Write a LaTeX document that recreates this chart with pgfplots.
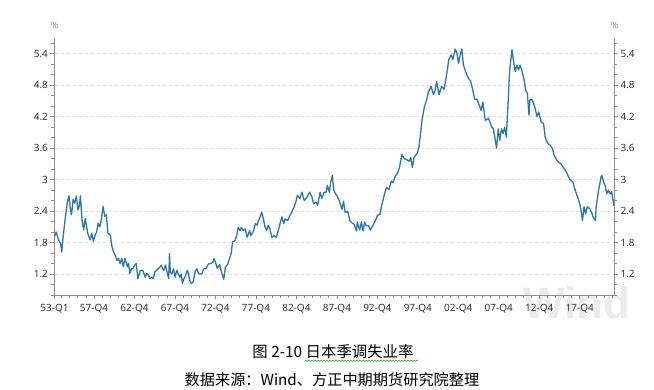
\documentclass[border=0pt]{standalone}
\usepackage{pgfplots}
\pgfplotsset{compat=1.18}
\usepackage{fontspec}
\setmainfont{Noto Sans}
\newfontfamily\cjk{Noto Sans CJK SC}
\usetikzlibrary{decorations.pathmorphing}
\definecolor{lineblue}{HTML}{2A78A6}
\definecolor{axgray}{HTML}{8C8C8C}
\definecolor{gridgray}{HTML}{DEDEDE}
\definecolor{lblgray}{HTML}{333333}
\definecolor{wmark}{HTML}{EBEBEB}
\pgfplotstableread{
x y
1953.0 1.91
1953.2 2.0
1953.5 1.85
1953.75 1.78
1953.9 1.62
1954.0 1.82
1954.3 2.23
1954.6 2.58
1954.8 2.69
1954.95 2.45
1955.1 2.33
1955.3 2.62
1955.5 2.55
1955.7 2.69
1955.9 2.42
1956.1 2.52
1956.2 2.69
1956.4 2.23
1956.6 2.04
1956.8 2.26
1957.1 1.98
1957.4 1.85
1957.6 1.98
1957.8 1.82
1958.0 1.94
1958.2 2.0
1958.4 2.17
1958.6 2.1
1958.8 2.26
1959.0 2.49
1959.2 2.3
1959.4 2.33
1959.6 1.98
1959.9 1.94
1960.1 1.72
1960.3 1.62
1960.5 1.56
1960.7 1.46
1960.9 1.5
1961.1 1.4
1961.3 1.5
1961.5 1.34
1961.7 1.5
1962.0 1.34
1962.15 1.4
1962.3 1.21
1962.5 1.3
1962.7 1.3
1962.9 1.37
1963.1 1.4
1963.3 1.11
1963.6 1.27
1963.9 1.27
1964.2 1.14
1964.4 1.21
1964.6 1.18
1964.8 1.11
1965.0 1.14
1965.2 1.11
1965.4 1.24
1965.6 1.27
1965.8 1.3
1966.0 1.33
1966.2 1.37
1966.35 1.3
1966.5 1.27
1966.7 1.37
1966.9 1.24
1967.1 1.11
1967.2 1.59
1967.3 1.24
1967.5 1.2
1967.7 1.3
1967.9 1.14
1968.1 1.27
1968.3 1.2
1968.5 1.14
1968.65 1.2
1968.8 1.02
1968.95 1.1
1969.1 1.14
1969.25 1.2
1969.4 1.27
1969.55 1.2
1969.7 1.08
1969.9 1.02
1970.1 1.04
1970.4 1.26
1970.6 1.3
1970.8 1.2
1971.0 1.2
1971.2 1.2
1971.4 1.3
1971.7 1.3
1972.0 1.39
1972.3 1.4
1972.55 1.42
1972.7 1.49
1972.95 1.39
1973.1 1.31
1973.4 1.38
1973.55 1.28
1973.7 1.2
1973.9 1.1
1974.1 1.33
1974.4 1.39
1974.6 1.49
1974.8 1.58
1975.0 1.81
1975.3 1.84
1975.5 1.93
1975.7 2.09
1975.9 2.03
1976.1 2.09
1976.3 2.03
1976.55 2.06
1976.8 1.9
1977.1 2.03
1977.25 1.93
1977.6 2.03
1977.8 2.16
1978.0 2.13
1978.2 2.22
1978.4 2.29
1978.6 2.38
1978.8 2.25
1979.0 2.09
1979.2 2.03
1979.4 2.13
1979.6 2.06
1979.85 1.9
1980.1 1.93
1980.4 1.9
1980.7 2.06
1980.9 2.19
1981.1 2.29
1981.3 2.16
1981.5 2.25
1981.8 2.22
1982.0 2.29
1982.3 2.38
1982.6 2.48
1982.85 2.6
1983.0 2.7
1983.3 2.64
1983.55 2.76
1983.85 2.6
1984.2 2.67
1984.5 2.76
1984.8 2.67
1985.0 2.54
1985.3 2.57
1985.5 2.51
1985.8 2.76
1986.0 2.64
1986.3 2.76
1986.55 2.76
1986.7 2.89
1986.95 2.76
1987.1 2.94
1987.3 3.08
1987.5 2.8
1987.7 2.73
1987.9 2.69
1988.2 2.59
1988.5 2.43
1988.7 2.59
1988.9 2.37
1989.2 2.4
1989.5 2.21
1989.7 2.18
1990.0 2.15
1990.3 2.02
1990.4 2.19
1990.7 2.04
1990.9 2.19
1991.1 2.02
1991.3 2.19
1991.5 2.12
1991.8 2.12
1992.0 2.04
1992.3 2.12
1992.6 2.21
1992.9 2.32
1993.2 2.34
1993.4 2.5
1993.7 2.69
1994.0 2.85
1994.3 2.81
1994.6 2.97
1994.8 2.94
1995.1 3.07
1995.4 3.13
1995.6 3.23
1995.9 3.48
1996.2 3.4
1996.5 3.38
1996.8 3.35
1997.0 3.42
1997.2 3.23
1997.4 3.42
1997.8 3.51
1998.0 3.61
1998.2 3.86
1998.4 4.15
1998.7 4.4
1998.9 4.49
1999.2 4.68
1999.5 4.78
1999.8 4.62
2000.0 4.7
2000.2 4.87
2000.5 4.62
2000.8 4.78
2001.1 4.72
2001.4 4.97
2001.7 5.29
2002.0 5.38
2002.2 5.29
2002.5 5.49
2002.7 5.41
2002.9 5.22
2003.1 5.38
2003.3 5.49
2003.5 5.19
2003.9 5.0
2004.1 4.94
2004.4 4.87
2004.6 4.75
2004.9 4.53
2005.2 4.53
2005.5 4.4
2005.7 4.32
2005.9 4.48
2006.2 4.13
2006.6 4.17
2007.0 4.0
2007.2 3.97
2007.6 3.6
2007.8 3.97
2008.0 3.75
2008.2 3.97
2008.4 3.88
2008.6 4.0
2008.8 3.81
2009.0 4.39
2009.2 5.06
2009.5 5.48
2009.7 5.25
2009.9 5.06
2010.1 5.18
2010.3 5.09
2010.5 5.18
2010.7 5.09
2011.0 4.9
2011.2 4.71
2011.4 4.64
2011.6 4.23
2011.7 4.52
2012.0 4.52
2012.3 4.39
2012.6 4.2
2012.8 4.29
2013.1 4.1
2013.4 4.07
2013.6 3.81
2013.9 3.69
2014.2 3.66
2014.5 3.59
2014.7 3.47
2015.0 3.38
2015.2 3.34
2015.5 3.31
2015.8 3.24
2016.1 3.18
2016.5 3.05
2016.7 2.99
2017.0 2.96
2017.3 2.8
2017.6 2.67
2017.8 2.57
2018.0 2.45
2018.2 2.22
2018.4 2.48
2018.6 2.35
2018.8 2.48
2019.1 2.45
2019.4 2.35
2019.5 2.29
2019.8 2.22
2019.9 2.48
2020.2 2.8
2020.5 3.05
2020.6 3.08
2020.8 2.96
2021.0 2.89
2021.2 2.73
2021.4 2.8
2021.6 2.73
2021.8 2.77
2022.1 2.5
}\unemp
\pgfplotsset{
  common/.style={
    at={(54.5pt,95pt)}, anchor=south west,
    scale only axis, width=559.5pt, height=257pt,
    xmin=1953, xmax=2022.1, ymin=0.8, ymax=5.7,
    ytick={1.2,1.8,2.4,3,3.6,4.2,4.8,5.4},
    minor ytick={0.8,1.0,1.4,1.6,2.0,2.2,2.6,2.8,3.2,3.4,3.8,4.0,4.4,4.6,5.0,5.2,5.6},
    /pgf/number format/assume math mode=true,
    tick label style={font=\fontsize{10}{11}\selectfont, text=lblgray},
    tick align=outside,
    major tick length=4pt, minor tick length=3pt,
    every tick/.style={axgray, line width=0.6pt},
    axis line style={axgray, line width=0.8pt},
  }
}
\begin{document}
\begin{tikzpicture}[x=1pt,y=1pt]
\path[use as bounding box] (0,0) rectangle (654,390);
% watermark
\node[font=\fontspec{Liberation Sans}\bfseries\fontsize{44}{44}\selectfont, text=wmark, anchor=center] at (577,87) {Wind};
\begin{axis}[common,
    axis x line*=bottom, axis y line*=left,
    xtick={1953,1957.875,1962.875,1967.875,1972.875,1977.875,1982.875,1987.875,1992.875,1997.875,2002.875,2007.875,2012.875,2017.875},
    xticklabels={53-Q1,57-Q4,62-Q4,67-Q4,72-Q4,77-Q4,82-Q4,87-Q4,92-Q4,97-Q4,02-Q4,07-Q4,12-Q4,17-Q4},
    minor xtick={1953.875,1954.875,...,2021.875},
    xticklabel style={yshift=-2pt},
    ymajorgrids,
    major grid style={gridgray, dash pattern=on 3pt off 3pt, line width=0.6pt},
    yticklabel style={xshift=1pt},
  ]
  \addplot[lineblue, line width=1.3pt, line join=round] table[x=x,y=y] {\unemp};
\end{axis}
\begin{axis}[common,
    axis x line=none, axis y line*=right,
    yticklabel style={xshift=-1pt},
  ]
  \addplot[draw=none] table[x=x,y=y] {\unemp};
\end{axis}
% percent signs
\node[font=\fontsize{9}{10}\selectfont, text=axgray] at (54.5,365) {\%};
\node[font=\fontsize{9}{10}\selectfont, text=axgray] at (614.5,365) {\%};
% caption
\node[font=\cjk\fontsize{15.4}{17}\selectfont, text=black] at (333,38.3) {图 2-10 日本季调失业率};
\draw[green!60!black!80, line width=0.6pt, decorate, decoration={snake, amplitude=0.7pt, segment length=3pt}] (305,29.3) -- (418,29.3);
\node[font=\cjk\fontsize{15.2}{17}\selectfont, text=black] at (332,10) {数据来源：Wind、方正中期期货研究院整理};
\end{tikzpicture}
\end{document}
